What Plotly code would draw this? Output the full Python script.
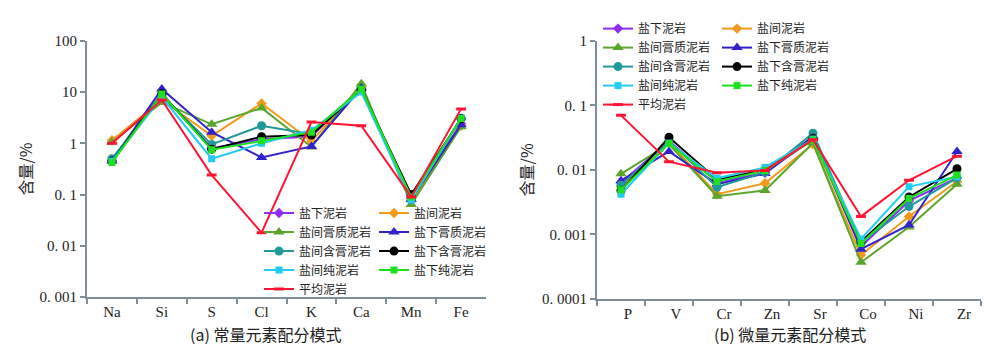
import plotly.graph_objects as go

major_elems = ["Na", "Si", "S", "Cl", "K", "Ca", "Mn", "Fe"]
trace_elems = ["P", "V", "Cr", "Zn", "Sr", "Co", "Ni", "Zr"]

series_names = ["盐下泥岩", "盐间泥岩", "盐间膏质泥岩", "盐下膏质泥岩",
                "盐间含膏泥岩", "盐下含膏泥岩", "盐间纯泥岩", "盐下纯泥岩", "平均泥岩"]

# major elements (%)
maj_yanxia_ni = [0.45, 9.0, 0.80, 1.20, 1.35, 12.0, 0.085, 2.4]
maj_yanjian_ni = [1.15, 7.0, 1.40, 6.0, 1.10, 12.5, 0.075, 2.2]
maj_yanjian_gaozhi = [1.05, 6.3, 2.35, 4.9, 0.85, 14.5, 0.064, 2.1]
maj_yanxia_gaozhi = [0.45, 11.5, 1.65, 0.53, 0.87, 12.0, 0.08, 2.3]
maj_yanjian_hangao = [0.50, 8.5, 0.95, 2.2, 1.50, 11.0, 0.08, 3.1]
maj_yanxia_hangao = [0.45, 9.3, 0.77, 1.35, 1.45, 11.0, 0.10, 3.0]
maj_yanjian_chun = [0.45, 8.0, 0.50, 1.00, 1.80, 10.0, 0.078, 3.1]
maj_yanxia_chun = [0.42, 9.2, 0.75, 1.12, 1.65, 11.5, 0.09, 3.05]
maj_pingjun = [1.0, 7.0, 0.24, 0.018, 2.6, 2.2, 0.09, 4.7]

# trace elements (%)
tr_yanxia_ni = [0.0063, 0.028, 0.0065, 0.0090, 0.030, 0.00065, 0.0033, 0.0075]
tr_yanjian_ni = [0.0055, 0.027, 0.0042, 0.0062, 0.025, 0.00048, 0.0019, 0.0066]
tr_yanjian_gaozhi = [0.0087, 0.025, 0.0039, 0.0048, 0.026, 0.00037, 0.0013, 0.0060]
tr_yanxia_gaozhi = [0.0068, 0.0193, 0.0060, 0.0088, 0.033, 0.00059, 0.0014, 0.0193]
tr_yanjian_hangao = [0.0058, 0.028, 0.0054, 0.0092, 0.037, 0.00075, 0.0027, 0.0075]
tr_yanxia_hangao = [0.0048, 0.032, 0.0071, 0.0100, 0.031, 0.00077, 0.0038, 0.0104]
tr_yanjian_chun = [0.0042, 0.026, 0.0074, 0.0109, 0.030, 0.00085, 0.0055, 0.0078]
tr_yanxia_chun = [0.0049, 0.0256, 0.0066, 0.0098, 0.029, 0.00072, 0.0036, 0.0083]
tr_pingjun = [0.070, 0.0134, 0.0090, 0.0098, 0.0294, 0.0019, 0.0069, 0.0163]

major_data = [maj_yanxia_ni, maj_yanjian_ni, maj_yanjian_gaozhi, maj_yanxia_gaozhi,
              maj_yanjian_hangao, maj_yanxia_hangao, maj_yanjian_chun, maj_yanxia_chun, maj_pingjun]
trace_data = [tr_yanxia_ni, tr_yanjian_ni, tr_yanjian_gaozhi, tr_yanxia_gaozhi,
              tr_yanjian_hangao, tr_yanxia_hangao, tr_yanjian_chun, tr_yanxia_chun, tr_pingjun]

colors = ["#8E2EF5", "#F39A1B", "#5AA52B", "#3322CC", "#21999A", "#000000", "#22CCF2", "#1FE01F", "#FF1433"]
symbols = ["diamond", "diamond", "triangle-up", "triangle-up", "circle", "circle", "square", "square", "line-ew"]
sizes = [8, 8, 10, 10, 9, 9, 7, 7, 7]
# legend column assignment: column 1 / column 2
col_of = [1, 2, 1, 2, 1, 2, 1, 2, 1]

fig = go.Figure()

for panel, (cats, data, xa, ya, lg) in enumerate([
        (major_elems, major_data, "x", "y", ("legend", "legend2")),
        (trace_elems, trace_data, "x2", "y2", ("legend3", "legend4"))]):
    for i, name in enumerate(series_names):
        is_mean = symbols[i] == "line-ew"
        marker = dict(symbol=symbols[i], size=sizes[i], color=colors[i])
        if is_mean:
            marker["line"] = dict(color=colors[i], width=3)
        fig.add_trace(go.Scatter(
            x=cats, y=data[i], name=name, mode="lines+markers",
            line=dict(color=colors[i], width=2), marker=marker,
            xaxis=xa, yaxis=ya,
            legend=lg[0] if col_of[i] == 1 else lg[1],
        ))

axis_color = "#7E8E99"
font_tick = dict(family="Liberation Serif, Noto Sans CJK SC", size=15, color="#222222")

common_x = dict(type="category", range=[-0.5, 7.5], showline=True, linecolor=axis_color, linewidth=2,
                ticks="outside", tickson="boundaries", ticklen=5, tickcolor=axis_color, tickwidth=2,
                showgrid=False, zeroline=False, tickfont=font_tick)
common_y = dict(type="log", showline=True, linecolor=axis_color, linewidth=2, ticks="outside",
                ticklen=5, tickcolor=axis_color, tickwidth=2, showgrid=False, zeroline=False,
                tickfont=font_tick)

fig.update_layout(
    width=1000, height=362,
    margin=dict(l=0, r=0, t=0, b=0),
    paper_bgcolor="white", plot_bgcolor="white",
    xaxis=dict(domain=[0.079, 0.478], anchor="y", **common_x),
    yaxis=dict(domain=[1 - 294 / 362, 1 - 26 / 362], anchor="x", range=[-3, 2],
               tickvals=[0.001, 0.01, 0.1, 1, 10, 100],
               ticktext=["0. 001", "0. 01", "0. 1", "1", "10", "100"],
               title=dict(text="含量/%", font=dict(family="Noto Sans CJK SC", size=16, color="#222222"),
                          standoff=3), **common_y),
    xaxis2=dict(domain=[0.589, 0.973], anchor="y2", ticklabelshift=7, **common_x),
    yaxis2=dict(domain=[1 - 296 / 362, 1 - 26 / 362], anchor="x2", range=[-4, 0],
                tickvals=[0.0001, 0.001, 0.01, 0.1, 1],
                ticktext=["0. 0001", "0. 001", "0. 01", "0. 1", "1"],
                title=dict(text="含量/%", font=dict(family="Noto Sans CJK SC", size=16, color="#222222"),
                           standoff=4), **common_y),
    showlegend=True,
)

leg_font = dict(family="Noto Sans CJK SC", size=12, color="#222222")
leg_common = dict(bgcolor="rgba(0,0,0,0)", font=leg_font, itemwidth=30, tracegroupgap=0,
                  xanchor="left", yanchor="top", orientation="v")
fig.update_layout(
    legend=dict(x=0.251, y=1 - 191 / 362, **leg_common),
    legend2=dict(x=0.366, y=1 - 191 / 362, **leg_common),
    legend3=dict(x=0.590, y=1 + 2 / 362, **leg_common),
    legend4=dict(x=0.709, y=1 + 2 / 362, **leg_common),
)

fig.add_annotation(text="(a) 常量元素配分模式", x=0.257, y=1 - 333 / 362, xref="paper", yref="paper",
                   showarrow=False, xanchor="center", yanchor="middle",
                   font=dict(family="Noto Sans CJK SC", size=16, color="#222222"))
fig.add_annotation(text="(b) 微量元素配分模式", x=0.782, y=1 - 333 / 362, xref="paper", yref="paper",
                   showarrow=False, xanchor="center", yanchor="middle",
                   font=dict(family="Noto Sans CJK SC", size=16, color="#222222"))

fig.write_html("out.html")
